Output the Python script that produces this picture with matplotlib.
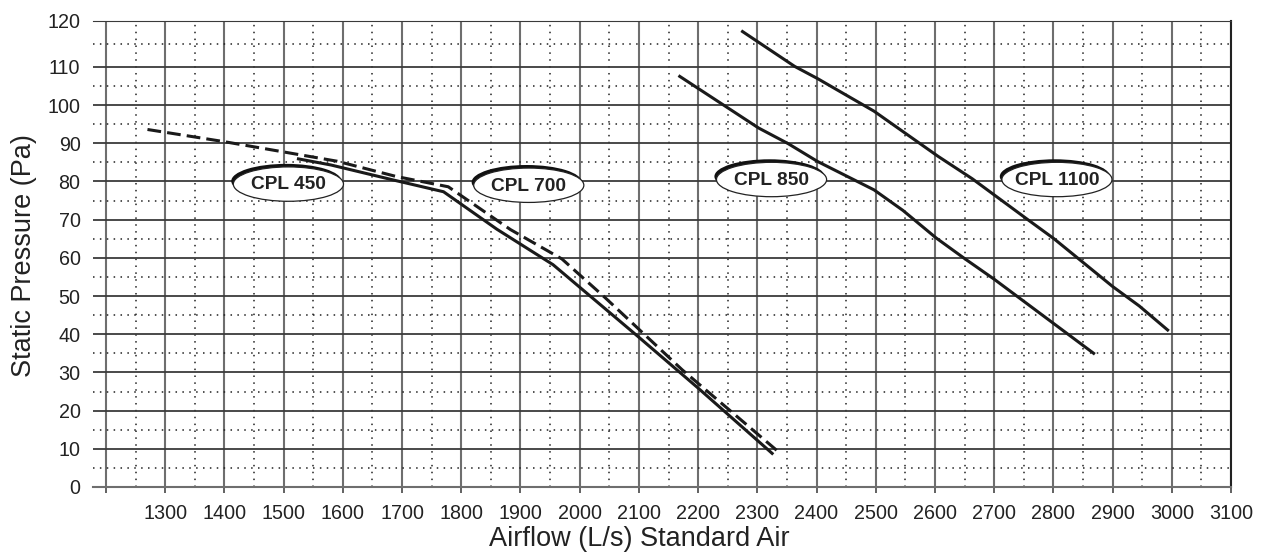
import numpy as np
import matplotlib
matplotlib.use("Agg")
import matplotlib.pyplot as plt
from matplotlib.patches import Ellipse

plt.rcParams['font.family'] = ['Liberation Sans', 'DejaVu Sans']

# curves (airflow L/s, static pressure Pa)
cpl450_x = [1270, 1400, 1590, 1690, 1778, 1883, 1970, 2042, 2091, 2173, 2335]
cpl450_y = [93.6, 90.4, 85.3, 81.3, 78.6, 67.4, 59.7, 49.7, 42.6, 30.7, 9.3]

cpl700_x = [1525, 1580, 1690, 1770, 1860, 1955, 2100, 2200, 2325]
cpl700_y = [85.9, 84.3, 80.2, 77.3, 67.5, 58.2, 39.2, 25.9, 8.8]

cpl850_x = [2169, 2302, 2352, 2402, 2497, 2546, 2602, 2651, 2700, 2868]
cpl850_y = [107.5, 94.0, 89.9, 85.2, 77.8, 72.4, 65.2, 59.7, 54.4, 35.0]

cpl1100_x = [2275, 2363, 2402, 2497, 2605, 2663, 2755, 2801, 2900, 2945, 2993]
cpl1100_y = [117.7, 110.1, 106.9, 98.4, 86.6, 80.7, 70.2, 65.0, 52.5, 47.4, 41.1]

labels = ['CPL 450', 'CPL 700', 'CPL 850', 'CPL 1100']
label_x = [1508, 1914, 2324, 2806]
label_y = [79.3, 79.0, 80.5, 80.5]

x_ticks = list(range(1200, 3101, 100))
x_labels = [''] + [str(v) for v in range(1300, 3101, 100)]
y_ticks = list(range(0, 121, 10))


# the original chart has a taller top band (110-120)
def fwd(y):
    y = np.asarray(y, dtype=float)
    return np.where(y <= 110, y, 110 + (y - 110) * 1.2)


def inv(v):
    v = np.asarray(v, dtype=float)
    return np.where(v <= 110, v, 110 + (v - 110) / 1.2)


fig = plt.figure(figsize=(12.67, 5.52), dpi=100)
ax = fig.add_axes([93 / 1267, 65 / 552, 1138 / 1267, 466 / 552])
ax.set_yscale('function', functions=(fwd, inv))
ax.set_xlim(1178, 3100)
ax.set_ylim(0, 120)

# grid
for xv in x_ticks:
    ax.axvline(xv, color='#6e6e6e', lw=1.5, zorder=1)
for xv in range(1250, 3100, 100):
    ax.axvline(xv, color='#222', lw=1.1, ls=(0, (1, 3.5)), zorder=1)
for yv in y_ticks:
    ax.axhline(yv, color='#3a3a3a', lw=1.3, zorder=1)
for yv in range(5, 120, 10):
    ax.axhline(yv, color='#222', lw=1.1, ls=(0, (1, 3.5)), zorder=1)

ax.plot(cpl450_x, cpl450_y, color='#1a1a1a', lw=2.2, dashes=(4.5, 2), zorder=3)
ax.plot(cpl700_x, cpl700_y, color='#1a1a1a', lw=2.2, zorder=3)
ax.plot(cpl850_x, cpl850_y, color='#1a1a1a', lw=2.2, zorder=3)
ax.plot(cpl1100_x, cpl1100_y, color='#1a1a1a', lw=2.2, zorder=3)

# badge labels: white ellipse with a heavy crescent on the upper left
for t, lx, ly in zip(labels, label_x, label_y):
    ax.add_patch(Ellipse((lx - 3.5, ly + 0.8), 186, 9.0, facecolor='#111', edgecolor='none', zorder=4))
    ax.add_patch(Ellipse((lx, ly), 186, 9.0, facecolor='white', edgecolor='#222', lw=0.9, zorder=5))
    ax.text(lx, ly - 0.2, t, ha='center', va='center', fontsize=13.8, fontweight='bold', color='#222', zorder=6)

ax.spines['left'].set_visible(False)
ax.spines['top'].set_color('#3a3a3a')
ax.spines['right'].set_color('#222')
ax.spines['right'].set_linewidth(1.5)
ax.spines['bottom'].set_color('#6e6e6e')
ax.spines['bottom'].set_linewidth(1.5)

ax.set_xticks(x_ticks)
ax.set_xticklabels(x_labels)
ax.set_yticks(y_ticks)
ax.tick_params(axis='x', direction='out', length=4, width=1.3, color='#555', pad=8, labelsize=14.2, labelcolor='#222')
ax.tick_params(axis='y', length=0, pad=9, labelsize=14.2, labelcolor='#222')

ax.set_xlabel('Airflow (L/s) Standard Air', fontsize=19.5, color='#222')
ax.set_ylabel('Static Pressure (Pa)', fontsize=19.5, color='#222')
ax.xaxis.set_label_coords((639 - 93) / 1138, -0.084)
ax.yaxis.set_label_coords(-0.049, 0.497)

fig.savefig('out.png', dpi=100)
